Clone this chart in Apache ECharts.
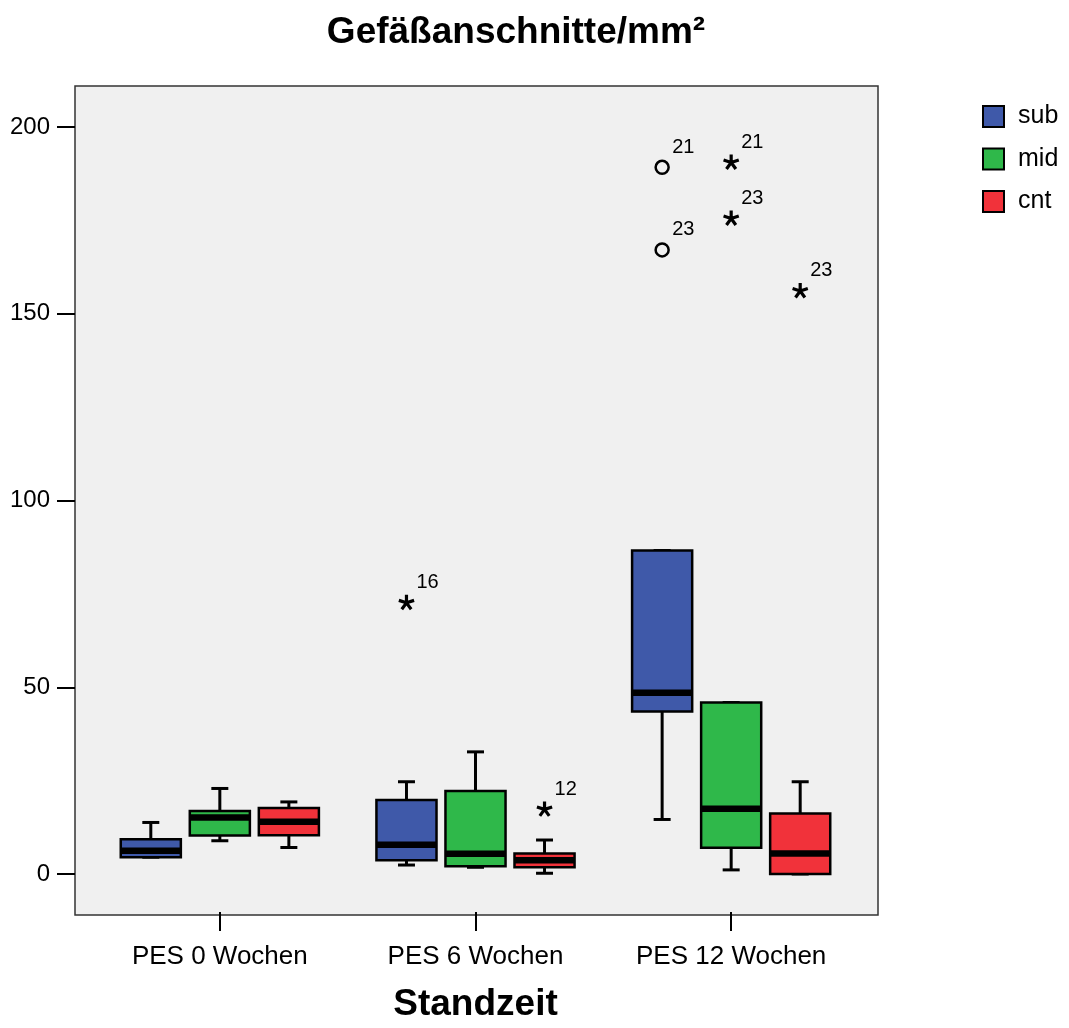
<!DOCTYPE html>
<html>
<head>
<meta charset="utf-8">
<title>Gefäßanschnitte/mm²</title>
<script src="https://cdn.jsdelivr.net/npm/echarts@6/dist/echarts.min.js"></script>
<style>
  html, body { margin: 0; padding: 0; background: #ffffff; }
  #chart { width: 1069px; height: 1028px; }
</style>
</head>
<body>
<div id="chart"></div>
<script>
// Standing time groups on the x axis
const categories = ['PES 0 Wochen', 'PES 6 Wochen', 'PES 12 Wochen'];
const groupNames = ['sub', 'mid', 'cnt'];
const groupColors = ['#3f59a9', '#2fb84a', '#f1323a'];

// Box statistics per standing time: [whisker low, Q1, median, Q3, whisker high]
const subStats = [
  [4.5, 4.5, 6.2, 9.3, 13.8],
  [2.4, 3.7, 7.8, 19.8, 24.7],
  [14.6, 43.5, 48.5, 86.6, 86.6]
];
const midStats = [
  [8.9, 10.3, 15.1, 16.9, 22.9],
  [1.8, 2.1, 5.4, 22.2, 32.7],
  [1.1, 7.0, 17.5, 45.9, 45.9]
];
const cntStats = [
  [7.1, 10.4, 14.0, 17.7, 19.3],
  [0.2, 1.8, 3.7, 5.5, 9.1],
  [0.0, 0.0, 5.5, 16.2, 24.7]
];

// Outlying cases: standing time index, group index, value, case number, kind
const outlierCat = [1, 1, 2, 2, 2, 2, 2];
const outlierGroup = [0, 2, 0, 0, 1, 1, 2];
const outlierValue = [72.6, 17.3, 189.2, 167.1, 190.5, 175.5, 156.1];
const outlierCase = ['16', '12', '21', '23', '21', '23', '23'];
const outlierKind = ['extreme', 'extreme', 'outlier', 'outlier', 'extreme', 'extreme', 'extreme'];

// Y axis ticks
const yTickMin = 0;
const yTickMax = 200;
const yTickStep = 50;

const FONT = '"Liberation Sans", Arial, Helvetica, sans-serif';
const GROUP_SHIFT = 0.27;   // fraction of a category band between neighbouring boxes
const BOX_FRACTION = 0.235; // box width as fraction of a category band
const CAP_HALF = 8.5;

const statsByGroup = [subStats, midStats, cntStats];

function boxRenderer(groupIdx) {
  return function (params, api) {
    const cat = api.value(0);
    const band = api.size([1, 0])[0];
    const cx = api.coord([cat, 0])[0] + (groupIdx - 1) * band * GROUP_SHIFT;
    const half = band * BOX_FRACTION / 2;
    const py = (dim) => api.coord([cat, api.value(dim)])[1];
    const yLo = py(1), yQ1 = py(2), yMed = py(3), yQ3 = py(4), yHi = py(5);
    const lineStyle = { stroke: '#000', lineWidth: 3 };
    const children = [];
    if (Math.abs(yLo - yQ1) > 0.5) {
      children.push({ type: 'line', shape: { x1: cx, y1: yQ1, x2: cx, y2: yLo }, style: lineStyle });
    }
    children.push({ type: 'line', shape: { x1: cx - CAP_HALF, y1: yLo, x2: cx + CAP_HALF, y2: yLo }, style: lineStyle });
    if (Math.abs(yHi - yQ3) > 0.5) {
      children.push({ type: 'line', shape: { x1: cx, y1: yQ3, x2: cx, y2: yHi }, style: lineStyle });
    }
    children.push({ type: 'line', shape: { x1: cx - CAP_HALF, y1: yHi, x2: cx + CAP_HALF, y2: yHi }, style: lineStyle });
    children.push({
      type: 'rect',
      shape: { x: cx - half, y: yQ3, width: half * 2, height: yQ1 - yQ3 },
      style: { fill: groupColors[groupIdx], stroke: '#000', lineWidth: 2.5 }
    });
    children.push({
      type: 'line',
      shape: { x1: cx - half, y1: yMed, x2: cx + half, y2: yMed },
      style: { stroke: '#000', lineWidth: 6.5 }
    });
    return { type: 'group', children: children };
  };
}

function starPath(r) {
  let d = '';
  for (let k = 0; k < 5; k++) {
    const a = (-90 + k * 72) * Math.PI / 180;
    d += 'M0 0L' + (r * Math.cos(a)).toFixed(2) + ' ' + (r * Math.sin(a)).toFixed(2);
  }
  return d;
}

function outlierRenderer(params, api) {
  const i = params.dataIndex;
  const cat = api.value(0);
  const band = api.size([1, 0])[0];
  const g = outlierGroup[i];
  const p = api.coord([cat, api.value(1)]);
  const cx = p[0] + (g - 1) * band * GROUP_SHIFT;
  const cy = p[1];
  const children = [];
  if (outlierKind[i] === 'outlier') {
    children.push({
      type: 'circle',
      shape: { cx: cx, cy: cy, r: 6.5 },
      style: { fill: 'none', stroke: '#000', lineWidth: 2.5 }
    });
  } else {
    children.push({
      type: 'path',
      x: cx, y: cy,
      shape: { pathData: starPath(8) },
      style: { fill: 'none', stroke: '#000', lineWidth: 3.2 }
    });
  }
  children.push({
    type: 'text',
    x: cx + 10, y: cy - 20,
    style: {
      text: outlierCase[i], fill: '#000', font: '20px ' + FONT,
      align: 'left', verticalAlign: 'middle'
    }
  });
  return { type: 'group', children: children };
}

const boxSeries = groupNames.map((name, g) => ({
  type: 'custom',
  name: name,
  xAxisIndex: 1,
  yAxisIndex: 1,
  clip: false,
  itemStyle: { color: groupColors[g] },
  encode: { x: 0, y: [1, 2, 3, 4, 5] },
  renderItem: boxRenderer(g),
  data: statsByGroup[g].map((s, c) => [categories[c]].concat(s))
}));

const outlierSeries = {
  type: 'custom',
  xAxisIndex: 1,
  yAxisIndex: 1,
  clip: false,
  encode: { x: 0, y: 1 },
  renderItem: outlierRenderer,
  data: outlierValue.map((v, i) => [categories[outlierCat[i]], v])
};

const chart = echarts.init(document.getElementById('chart'), null, { renderer: 'canvas' });
chart.setOption({
  backgroundColor: '#ffffff',
  animation: false,
  title: {
    text: 'Gefäßanschnitte/mm²',
    left: 511,
    textAlign: 'center',
    top: 9,
    textStyle: { fontFamily: FONT, fontSize: 37, fontWeight: 'bold', color: '#000' }
  },
  legend: {
    orient: 'vertical',
    left: 982,
    top: 104,
    padding: 0,
    itemWidth: 21,
    itemHeight: 21,
    itemGap: 17.5,
    icon: 'rect',
    textStyle: { fontFamily: FONT, fontSize: 25, color: '#000', lineHeight: 21, padding: [0, 0, 0, 9] },
    data: groupNames.map((n, g) => ({
      name: n,
      itemStyle: { color: groupColors[g], borderColor: '#000', borderWidth: 2 }
    }))
  },
  grid: [
    // plot frame
    {
      left: 75, top: 86, width: 803, height: 829,
      show: true, backgroundColor: '#f0f0f0', borderColor: '#333', borderWidth: 1.5
    },
    // value area, 0..200
    { left: 92, top: 127, width: 767, height: 747 },
    // category axis along the bottom of the frame
    { left: 92, top: 86, width: 767, height: 829 }
  ],
  xAxis: [
    { gridIndex: 0, type: 'value', show: false, min: 0, max: 1 },
    { gridIndex: 1, type: 'category', data: categories, boundaryGap: true, show: false },
    {
      gridIndex: 2,
      type: 'category',
      data: categories,
      boundaryGap: true,
      position: 'bottom',
      axisLine: { show: false },
      axisTick: { show: true, alignWithLabel: true, length: 19, lineStyle: { color: '#000', width: 2 } },
      axisLabel: { margin: 32, fontFamily: FONT, fontSize: 26, color: '#000' },
      splitLine: { show: false },
      name: 'Standzeit',
      nameLocation: 'middle',
      nameGap: 74,
      nameTextStyle: { fontFamily: FONT, fontSize: 37, fontWeight: 'bold', color: '#000' }
    }
  ],
  yAxis: [
    { gridIndex: 0, type: 'value', show: false, min: 0, max: 1 },
    {
      gridIndex: 1,
      type: 'value',
      min: yTickMin,
      max: yTickMax,
      interval: yTickStep,
      offset: 17,
      axisLine: { show: false },
      axisTick: { show: true, length: 18, lineStyle: { color: '#000', width: 2 } },
      axisLabel: { margin: 25, fontFamily: FONT, fontSize: 24, color: '#000' },
      splitLine: { show: false }
    },
    { gridIndex: 2, type: 'value', show: false, min: 0, max: 1 }
  ],
  series: boxSeries.concat([outlierSeries])
});
</script>
</body>
</html>
